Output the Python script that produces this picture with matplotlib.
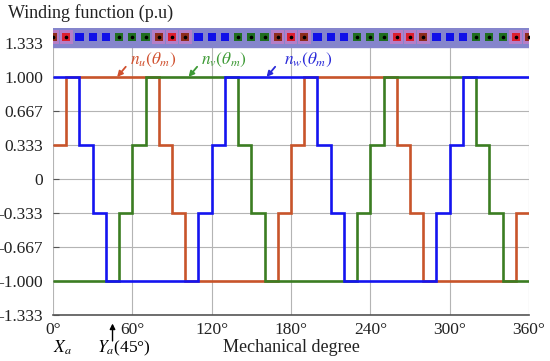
import matplotlib.pyplot as plt
from matplotlib.patches import Rectangle

# step winding functions (edges in mechanical degrees, levels in p.u)
u_edges = [0, 10, 80, 90, 100, 170, 180, 190, 260, 270, 280, 350, 360]
u_levels = [1/3, 1, 1/3, -1/3, -1, -1/3, 1/3, 1, 1/3, -1/3, -1, -1/3]

v_edges = [0, 50, 60, 70, 140, 150, 160, 230, 240, 250, 320, 330, 340, 360]
v_levels = [-1, -1/3, 1/3, 1, 1/3, -1/3, -1, -1/3, 1/3, 1, 1/3, -1/3, -1]

w_edges = [0, 20, 30, 40, 110, 120, 130, 200, 210, 220, 290, 300, 310, 360]
w_levels = [1, 1/3, -1/3, -1, -1/3, 1/3, 1, 1/3, -1/3, -1, -1/3, 1/3, 1]

# slot layout, one slot every 10 degrees starting at 0
slot_angles = [0, 10, 20, 30, 40, 50, 60, 70, 80, 90, 100, 110, 120, 130, 140, 150, 160, 170,
               180, 190, 200, 210, 220, 230, 240, 250, 260, 270, 280, 290, 300, 310, 320, 330,
               340, 350, 360]
slot_phase = "uuwwwvvvuuuwwwvvvuuuwwwvvvuuuwwwvvvuu"
u_bright = [10, 90, 180, 260, 270, 350]

yticks = [-4/3, -1, -2/3, -1/3, 0, 1/3, 2/3, 1, 4/3]
ytick_labels = ["-1.333", "-1.000", "-0.667", "-0.333", "0", "0.333", "0.667", "1.000", "1.333"]
xticks = [0, 60, 120, 180, 240, 300, 360]

c_u, c_v, c_w = "#c8542a", "#3b7d22", "#1414f0"

plt.rcParams['font.family'] = ['Liberation Serif', 'DejaVu Serif']
plt.rcParams['mathtext.fontset'] = 'stix'

fig = plt.figure(figsize=(5.5, 3.61), dpi=100)
ax = fig.add_axes([0.0964, 0.1274, 0.8655, 0.795])
ax.set_xlim(0, 360)
ax.set_ylim(-4/3, 1.48)

ax.grid(True, color="#b4b4b4", lw=0.8)
ax.set_axisbelow(True)

ax.stairs(u_levels, u_edges, color=c_u, lw=1.9, baseline=None, zorder=3)
ax.stairs(v_levels, v_edges, color=c_v, lw=1.9, baseline=None, zorder=4)
ax.stairs(w_levels, w_edges, color=c_w, lw=1.9, baseline=None, zorder=5)

# slot strip on top
ax.add_patch(Rectangle((0, 1.29), 360, 0.19, color="#8585cc", zorder=6))
for a, p in zip(slot_angles, slot_phase):
    if p == "u":
        ax.add_patch(Rectangle((a - 4.8, 1.325), 9.6, 0.135, color="#d67ac4", alpha=0.6, zorder=7, lw=0))
        col = "#dd1f2e" if a in u_bright else "#8e2c1c"
    elif p == "v":
        col = "#1f6e1f"
    else:
        col = "#1010e8"
    ax.add_patch(Rectangle((a - 3.1, 1.35), 6.2, 0.084, color=col, zorder=8, lw=0))
    if p != "w":
        ax.plot(a, 1.392, "o", ms=1.6, color="black", zorder=9)

for s in ["left", "top", "right"]:
    ax.spines[s].set_visible(False)
ax.spines["bottom"].set_color("#555555")
ax.spines["bottom"].set_linewidth(1.2)

ax.set_yticks(yticks)
ax.set_yticklabels(ytick_labels)
ax.set_xticks(xticks)
ax.set_xticklabels([f"{t}°" for t in xticks])
ax.tick_params(axis="y", direction="in", length=4, color="#555555", labelsize=12.5, labelcolor="#222222", pad=7)
ax.tick_params(axis="x", length=0, labelsize=12.5, labelcolor="#222222", pad=5)

fig.text(8 / 550, 0.963, "Winding function (p.u)", fontsize=13, color="#222222", va="center")
ax.set_xlabel("Mechanical degree", fontsize=13, color="#222222", labelpad=1)

# phase labels with arrows
for name, col, tx, tip in [("u", "#d0502e", 58, 48.5), ("v", "#3d9a35", 112, 102.5), ("w", "#2a2ad8", 174.5, 161.5)]:
    ax.text(tx, 1.17, rf"$n_{name}(\theta_m)$", color=col, fontsize=12.5, va="center", ha="left", zorder=10)
    ax.annotate("", xy=(tip, 1.0), xytext=(tip + 6.5, 1.1),
                arrowprops=dict(arrowstyle="-|>", color=col, lw=1.3, mutation_scale=8,
                                shrinkA=0, shrinkB=0), zorder=10)

# mark of Xa and Ya below the axis
tr = ax.get_xaxis_transform()
ax.annotate("", xy=(45, -0.02), xytext=(45, -0.1), xycoords=tr, textcoords=tr,
            arrowprops=dict(arrowstyle="-|>", color="black", lw=1.0, mutation_scale=8))
ax.text(0, -0.115, r"$X_a$", transform=tr, fontsize=12.5, ha="left", va="center")
ax.text(33, -0.115, r"$Y_a$" + "(45°)", transform=tr, fontsize=12.5, ha="left", va="center")

fig.savefig("out.png", dpi=100)
